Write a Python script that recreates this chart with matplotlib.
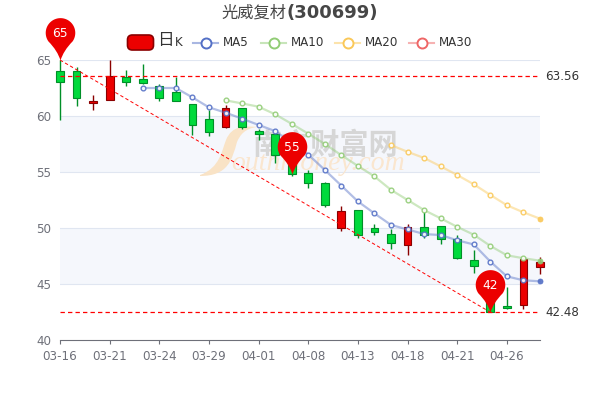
import numpy as np
import matplotlib
matplotlib.use("Agg")
import matplotlib.pyplot as plt
from matplotlib.path import Path
from matplotlib.patches import PathPatch, FancyBboxPatch
from matplotlib.lines import Line2D
from matplotlib.transforms import Affine2D

# ================= DADOS =================
dates = ["03-16", "03-17", "03-18", "03-21", "03-22", "03-23", "03-24", "03-25", "03-28", "03-29",
         "03-30", "03-31", "04-01", "04-06", "04-07", "04-08", "04-11", "04-12", "04-13", "04-14",
         "04-15", "04-18", "04-19", "04-20", "04-21", "04-22", "04-25", "04-26", "04-27", "04-28"]
opens = [64.0, 64.05, 61.2, 61.4, 63.5, 63.27, 62.68, 62.14, 61.04, 59.7,
         58.98, 60.68, 58.7, 58.42, 57.0, 54.9, 54.05, 49.97, 51.6, 50.03,
         49.5, 48.5, 50.1, 50.18, 49.02, 47.1, 44.6, 43.0, 43.1, 46.55]
closes = [63.06, 61.6, 61.37, 63.6, 63.0, 62.97, 61.57, 61.34, 59.24, 58.57,
          60.68, 59.0, 58.42, 56.56, 54.8, 54.0, 52.05, 51.5, 49.4, 49.6,
          48.7, 50.1, 49.4, 49.02, 47.28, 46.63, 42.48, 42.86, 47.2, 47.0]
highs = [65.0, 64.4, 61.9, 65.0, 64.1, 64.6, 62.86, 63.5, 61.1, 60.5,
         61.0, 60.7, 58.8, 58.42, 57.0, 55.18, 54.1, 52.0, 51.65, 50.36,
         49.9, 50.36, 51.4, 50.2, 49.4, 48.0, 44.6, 44.7, 47.3, 47.4]
lows = [59.6, 60.9, 60.5, 61.4, 62.7, 62.9, 61.35, 61.3, 58.3, 58.2,
        58.9, 58.8, 57.9, 55.76, 54.67, 53.6, 51.9, 49.7, 49.1, 49.4,
        48.1, 47.56, 49.07, 48.6, 47.2, 46.0, 42.48, 42.73, 42.8, 45.9]

ma5_x = list(range(5, 30))
ma5 = [62.5, 62.5, 62.5, 61.66, 60.77, 60.3, 59.76, 59.2, 58.65, 57.6,
       56.56, 55.18, 53.78, 52.37, 51.3, 50.27, 49.87, 49.46, 49.37, 48.9,
       48.53, 47.0, 45.68, 45.33, 45.24]
ma10_x = list(range(10, 30))
ma10 = [61.4, 61.12, 60.83, 60.15, 59.3, 58.42, 57.5, 56.5, 55.54, 54.6,
        53.4, 52.5, 51.6, 50.86, 50.1, 49.4, 48.4, 47.56, 47.3, 47.08]
ma20_x = list(range(20, 30))
ma20 = [57.4, 56.8, 56.25, 55.5, 54.73, 53.9, 52.95, 52.03, 51.4, 50.83]

tick_idx = [0, 3, 6, 9, 12, 15, 18, 21, 24, 27]
y_ticks = [40, 45, 50, 55, 60, 65]
hlines = [63.56, 42.48]
pin_x = [0, 14, 26]
pin_y = [65, 54.8, 42.48]
pin_txt = ["65", "55", "42"]

# ================= CORES =================
RED, RED_E = "#ec0000", "#8a0000"
GREEN, GREEN_E = "#00da3c", "#008f28"
MA_COL = {"MA5": "#5470c6", "MA10": "#91cc75", "MA20": "#fac858", "MA30": "#ee6666"}
TXT = "#333333"
CJK = ["Noto Sans CJK SC", "DejaVu Sans"]

W, H = 600, 400
fig = plt.figure(figsize=(6, 4), dpi=100)
ax = fig.add_axes([60 / W, 1 - 340 / H, 480 / W, 280 / H])
ax.set_xlim(0, 29)
ax.set_ylim(40, 65)

def fx(x):
    return x / W

def fy(y):
    return 1 - y / H

# ================= FUNDO =================
ax.axhspan(55, 60, color="#f5f7fc", lw=0, zorder=0)
ax.axhspan(45, 50, color="#f5f7fc", lw=0, zorder=0)
for v in y_ticks[1:]:
    ax.axhline(v, color="#e0e6f1", lw=0.8, zorder=1)

# marca d'agua
M, C = Path.MOVETO, Path.CURVE4
swoosh = Path([(200, 225), (220, 232), (222, 250), (226, 260),
               (232, 275), (245, 274), (258, 273),
               (245, 272), (240, 265), (237, 258),
               (232, 240), (228, 224), (200, 224)],
              [M, C, C, C, C, C, C, C, C, C, C, C, C])
px_trans = Affine2D().scale(1 / W, 1 / H) + fig.transFigure
ax.add_patch(PathPatch(swoosh, transform=px_trans, fc="#f9e3c6", ec="none", zorder=1.5, clip_on=False))
ax.text(fx(325), fy(145), "南方财富网", family=CJK, weight="bold", fontsize=21, color="#d6d6d6",
        ha="center", va="center", zorder=1.6, transform=fig.transFigure)
ax.text(fx(318), fy(164), "outhmoney.com", family="Liberation Serif", style="italic", fontsize=20, color="#fae6cf",
        ha="center", va="center", zorder=1.6, transform=fig.transFigure)

# ================= VELAS =================
x = np.arange(len(dates))
for i in x:
    up = closes[i] >= opens[i]
    fc, ec = (RED, RED_E) if up else (GREEN, GREEN_E)
    top, bot = max(opens[i], closes[i]), min(opens[i], closes[i])
    ax.vlines(i, top, highs[i], color=ec, lw=1, zorder=3, clip_on=False)
    ax.vlines(i, lows[i], bot, color=ec, lw=1, zorder=3, clip_on=False)
    ax.bar(i, top - bot, bottom=bot, width=0.47, color=fc, edgecolor=ec, lw=0.8, zorder=3, clip_on=False)

# ================= MEDIAS =================
for name, xs, ys in [("MA5", ma5_x, ma5), ("MA10", ma10_x, ma10), ("MA20", ma20_x, ma20)]:
    col = MA_COL[name]
    ax.plot(xs, ys, color=col, lw=1.6, alpha=0.45, zorder=4, clip_on=False)
    ax.plot(xs[:-1], ys[:-1], ls="none", marker="o", ms=3.4, mfc="#ffffff", mec=col, mew=1.0, alpha=0.9, zorder=5, clip_on=False)
    # ultimo ponto fica cheio
    ax.plot(xs[-1:], ys[-1:], ls="none", marker="o", ms=3.6, mfc=col, mec=col, mew=0.6, alpha=0.9, zorder=5, clip_on=False)

# ================= LINHAS DE MARCA =================
for v in hlines:
    ax.plot([0, 29], [v, v], color="#ff0000", lw=0.9, dashes=(3.5, 2.5), zorder=6, clip_on=False)
    ax.annotate(f"{v:.2f}", (29, v), xytext=(4, 0), textcoords="offset points", va="center", ha="left",
                fontsize=8.6, color=TXT, annotation_clip=False)
ax.plot([pin_x[0], pin_x[2]], [pin_y[0], pin_y[2]], color="#ff0000", lw=0.7, dashes=(3.5, 2.5), zorder=6, clip_on=False)

# ================= PINOS =================
t = np.radians(np.linspace(-35, 215, 60))
arc = np.column_stack([15 * np.cos(t), 28 + 15 * np.sin(t)])
verts = np.vstack([[(0, 0)], [(3, 10)], arc, [(-3, 10)], [(0, 0)]])
codes = [Path.MOVETO, Path.CURVE3, Path.CURVE3] + [Path.LINETO] * 59 + [Path.CURVE3, Path.CURVE3]
pin = Path(verts, codes)
ax.plot(pin_x, pin_y, ls="none", marker=pin, ms=61, mfc="#ec0000", mec="none", zorder=7, clip_on=False)
for px_, py_, s in zip(pin_x, pin_y, pin_txt):
    ax.annotate(s, (px_, py_), xytext=(0, 19), textcoords="offset points", ha="center", va="center",
                fontsize=8.8, color="#ffffff", zorder=8, annotation_clip=False)

# ================= EIXOS =================
for s in ["top", "left", "right"]:
    ax.spines[s].set_visible(False)
ax.spines["bottom"].set_color("#6e7079")
ax.spines["bottom"].set_linewidth(0.8)
ax.set_xticks(tick_idx)
ax.set_xticklabels([dates[i] for i in tick_idx], fontsize=8.6, color="#6e7079")
ax.tick_params(axis="x", length=3, width=0.8, color="#6e7079", pad=4)
ax.set_yticks(y_ticks)
ax.set_yticklabels([str(v) for v in y_ticks], fontsize=8.6, color="#6e7079")
ax.tick_params(axis="y", length=0, pad=6.5)

# ================= TITULO =================
fig.text(fx(286), fy(13.5), "光威复材", family=CJK, fontsize=11.7, color="#464646", ha="right", va="center")
fig.text(fx(286), fy(13), "(300699)", fontsize=13, weight="bold", color="#464646", ha="left", va="center")

# ================= LEGENDA =================
fig.add_artist(FancyBboxPatch((fx(127.5), fy(50)), 26 / W, 15 / H, boxstyle="round,pad=0,rounding_size=0.008",
                              fc=RED, ec=RED_E, lw=1.2, mutation_aspect=1.5, transform=fig.transFigure))
fig.text(fx(157), fy(41), "日", family=CJK, fontsize=12, color=TXT, ha="left", va="center")
fig.text(fx(174.5), fy(43), "K", fontsize=8.6, color=TXT, ha="left", va="center")
for name, x0 in [("MA5", 193), ("MA10", 261), ("MA20", 335), ("MA30", 409)]:
    col = MA_COL[name]
    fig.add_artist(Line2D([fx(x0), fx(x0 + 25)], [fy(43), fy(43)], color=col, lw=1.5, alpha=0.5, transform=fig.transFigure))
    fig.add_artist(Line2D([fx(x0 + 12.5)], [fy(43)], marker="o", ms=7.2, mfc="#ffffff", mec=col, mew=1.4, transform=fig.transFigure))
    fig.text(fx(x0 + 30), fy(43), name, fontsize=8.6, color=TXT, ha="left", va="center")

fig.savefig("out.png", dpi=100)
